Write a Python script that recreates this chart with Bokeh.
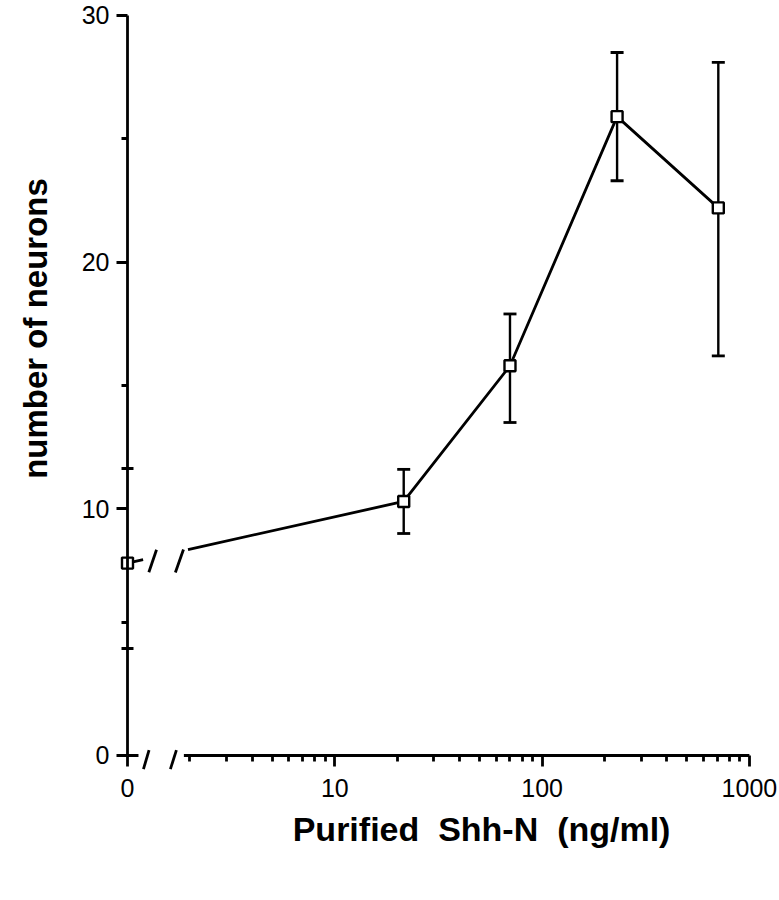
import math
from bokeh.plotting import figure
from bokeh.models import (LinearAxis, FixedTicker, Range1d, ColumnDataSource,
                          CustomJSTickFormatter, Label)
from bokeh.embed import file_html
from bokeh.resources import INLINE

# ---------------- data ----------------
concentration = [0, 21.5, 70, 230, 708]        # ng/ml (0 = control, drawn at the axis break)
neurons = [7.8, 10.3, 15.8, 25.9, 22.2]
err_lower = [None, 9.0, 13.5, 23.3, 16.2]
err_upper = [None, 11.6, 17.9, 28.5, 28.1]

y_ticks = [0, 10, 20, 30]
y_minor_ticks = [5.4, 15, 25]
y_cross_ticks = [4.35, 11.65]
x_tick_values = [0, 10, 100, 1000]
x_tick_labels = ["0", "10", "100", "1000"]
x_minor_values = [2, 3, 4, 5, 6, 7, 8, 9,
                  20, 30, 40, 50, 60, 70, 80, 90,
                  200, 300, 400, 500, 600, 700, 800, 900]
x_title = "Purified\u00a0 Shh-N\u00a0 (ng/ml)"
y_title = "number of neurons"

# axis break decoration (in axis coordinates: log10 units, neurons)
x_axis_pieces = [(0.0, 0.053), (0.272, 3.0)]
x_break_marks = [((0.077, -0.55), (0.104, 0.22)), ((0.207, -0.55), (0.236, 0.22))]
line_break_marks = [((0.103, 7.43), (0.140, 8.34)), ((0.231, 7.42), (0.270, 8.35))]


def pos(c):
    return 0.0 if c == 0 else math.log10(c)


xs = [pos(c) for c in concentration]
FONT = "Liberation Sans"
LW = 2.8

p = figure(width=779, height=864, frame_width=779, frame_height=864,
           x_range=Range1d(-0.6126, 3.1452), y_range=Range1d(-4.419, 30.608),
           x_axis_type=None, y_axis_type=None,
           output_backend="svg", toolbar_location=None,
           min_border_left=0, min_border_right=0, min_border_top=0,
           min_border_bottom=0)
p.outline_line_color = None

# ---------------- axes ----------------
yax = LinearAxis(fixed_location=0, bounds=(0, 30),
                 ticker=FixedTicker(ticks=y_ticks, minor_ticks=y_minor_ticks),
                 axis_line_width=LW, axis_line_color="black",
                 major_tick_out=11, major_tick_in=0, major_tick_line_width=LW,
                 minor_tick_out=6, minor_tick_in=0, minor_tick_line_width=LW,
                 major_label_standoff=7,
                 major_label_text_font=FONT, major_label_text_font_size="25px",
                 major_label_text_color="black")
p.add_layout(yax, "left")

yax2 = LinearAxis(fixed_location=0,
                  ticker=FixedTicker(ticks=y_cross_ticks, minor_ticks=[]),
                  axis_line_color=None,
                  major_tick_out=6, major_tick_in=6, major_tick_line_width=LW,
                  minor_tick_line_color=None,
                  major_label_text_color=None)
p.add_layout(yax2, "left")

xax = LinearAxis(fixed_location=0,
                 ticker=FixedTicker(ticks=[pos(v) for v in x_tick_values],
                                    minor_ticks=[math.log10(v) for v in x_minor_values]),
                 formatter=CustomJSTickFormatter(args=dict(labels=x_tick_labels),
                                                 code="return labels[Math.round(tick)]"),
                 axis_line_color=None,
                 major_tick_out=11, major_tick_in=0, major_tick_line_width=LW,
                 minor_tick_out=6, minor_tick_in=0, minor_tick_line_width=LW,
                 major_label_standoff=13,
                 major_label_text_font=FONT, major_label_text_font_size="25px",
                 major_label_text_color="black")
p.add_layout(xax, "below")

# broken x axis line
p.segment(x0=[a for a, b in x_axis_pieces], x1=[b for a, b in x_axis_pieces],
          y0=[0] * len(x_axis_pieces), y1=[0] * len(x_axis_pieces),
          line_color="black", line_width=LW)
# break marks
for marks in (x_break_marks, line_break_marks):
    p.segment(x0=[m[0][0] for m in marks], y0=[m[0][1] for m in marks],
              x1=[m[1][0] for m in marks], y1=[m[1][1] for m in marks],
              line_color="black", line_width=LW)

# ---------------- data marks ----------------
p.line(x=xs[0:2], y=neurons[0:2], line_color="black", line_width=LW,
       line_dash="16 46 400")
p.line(x=xs[1:], y=neurons[1:], line_color="black", line_width=LW)

eb = ColumnDataSource(dict(x=xs[1:], lo=err_lower[1:], hi=err_upper[1:]))
p.segment(x0="x", x1="x", y0="lo", y1="hi", source=eb, line_color="black", line_width=2.4)
p.scatter(x="x", y="lo", source=eb, marker="dash", size=13, line_color="black", line_width=LW)
p.scatter(x="x", y="hi", source=eb, marker="dash", size=13, line_color="black", line_width=LW)

p.scatter(x=xs, y=neurons, marker="square", size=11, fill_color="white",
          line_color="black", line_width=2.4)

# ---------------- titles ----------------
p.add_layout(Label(x=1.708, y=-2.96, text=x_title,
                   text_align="center", text_baseline="middle",
                   text_font=FONT, text_font_style="bold", text_font_size="34px",
                   text_color="black"))
p.add_layout(Label(x=-0.444, y=17.31, text=y_title, angle=math.pi / 2,
                   text_align="center", text_baseline="middle",
                   text_font=FONT, text_font_style="bold", text_font_size="33px",
                   text_color="black"))

open("out.html", "w").write(file_html(p, INLINE))
